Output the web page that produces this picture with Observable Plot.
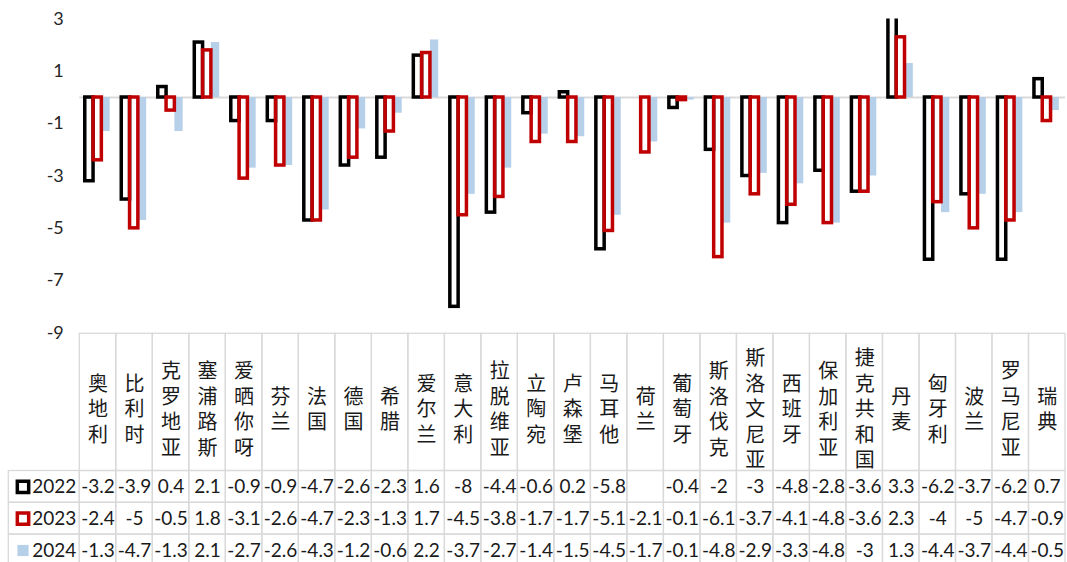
<!DOCTYPE html>
<html><head><meta charset="utf-8">
<script src="https://cdn.jsdelivr.net/npm/d3@7"></script>
<script src="https://cdn.jsdelivr.net/npm/@observablehq/plot@0.6"></script>
<style>
body{margin:0;background:#fff;}
#wrap{position:relative;width:1067px;height:562px;overflow:hidden;background:#fff;}
#wrap svg{position:absolute;overflow:visible;}
</style></head><body><div id="wrap"></div>
<script>
const countries = ["奥地利","比利时","克罗地亚","塞浦路斯","爱晒你呀","芬兰","法国","德国","希腊","爱尔兰","意大利","拉脱维亚","立陶宛","卢森堡","马耳他","荷兰","葡萄牙","斯洛伐克","斯洛文尼亚","西班牙","保加利亚","捷克共和国","丹麦","匈牙利","波兰","罗马尼亚","瑞典"];
const years = ["2022","2023","2024"];
const v2022 = [-3.2,-3.9,0.4,2.1,-0.9,-0.9,-4.7,-2.6,-2.3,1.6,-8,-4.4,-0.6,0.2,-5.8,null,-0.4,-2,-3,-4.8,-2.8,-3.6,3.3,-6.2,-3.7,-6.2,0.7];
const v2023 = [-2.4,-5,-0.5,1.8,-3.1,-2.6,-4.7,-2.3,-1.3,1.7,-4.5,-3.8,-1.7,-1.7,-5.1,-2.1,-0.1,-6.1,-3.7,-4.1,-4.8,-3.6,2.3,-4,-5,-4.7,-0.9];
const v2024 = [-1.3,-4.7,-1.3,2.1,-2.7,-2.6,-4.3,-1.2,-0.6,2.2,-3.7,-2.7,-1.4,-1.5,-4.5,-1.7,-0.1,-4.8,-2.9,-3.3,-4.8,-3,1.3,-4.4,-3.7,-4.4,-0.5];
const yTicks = [-9,-7,-5,-3,-1,1,3];

const seriesValues = {"2022": v2022, "2023": v2023, "2024": v2024};
const rows = [];
years.forEach(yr => countries.forEach((c, j) => rows.push({country: c, year: yr, value: seriesValues[yr][j]})));
const valid = rows.filter(d => d.value != null);

const GRID = "#d9d9d9";
const W = 1067, L = 79.3, R = 2;
const NUMFONT = "Lato, 'Open Sans', sans-serif";
const CJKFONT = "'Noto Sans CJK SC', sans-serif";
const wrap = document.getElementById("wrap");

// Chart
const chart = Plot.plot({
  width: W, height: 345, marginLeft: L, marginRight: R, marginTop: 18.5, marginBottom: 12.5,
  style: {fontFamily: NUMFONT, fontSize: "18px", color: "#262626", background: "transparent"},
  fx: {domain: countries, padding: 0, axis: null, round: false},
  x: {domain: years, paddingInner: 0, paddingOuter: 0.7, align: 0.47, axis: null, round: false},
  y: {domain: [-9, 3], ticks: yTicks, tickSize: 0, tickPadding: 16, label: null, tickFormat: d => String(d)},
  marks: [
    Plot.ruleY([0], {stroke: GRID, strokeWidth: 2}),
    Plot.barY(valid.filter(d => d.year === "2024"), {fx: "country", x: "year", y: "value", fill: "#b7d0ea", clip: true}),
    Plot.barY(valid.filter(d => d.year === "2022"), {fx: "country", x: "year", y: "value", fill: "none", stroke: "#000000", strokeWidth: 3.5, clip: true}),
    Plot.barY(valid.filter(d => d.year === "2023"), {fx: "country", x: "year", y: "value", fill: "none", stroke: "#c00000", strokeWidth: 3.5, clip: true})
  ]
});
chart.style.left = "0px"; chart.style.top = "0px";

// Header row (country names, written vertically)
const header = Plot.plot({
  width: W, height: 165, marginLeft: L, marginRight: R, marginTop: 13.3, marginBottom: 14.5,
  style: {background: "transparent"},
  x: {domain: countries, padding: 0, axis: null, round: false},
  marks: [
    Plot.cell(countries, {x: d => d, stroke: GRID, strokeWidth: 1.3, fill: "none"}),
    Plot.text(countries, {x: d => d, text: d => d, frameAnchor: "middle",
      fontSize: 20, fontFamily: CJKFONT, fill: "#1a1a1a"})
  ]
});
header.style.left = "0px"; header.style.top = "320px";
header.querySelectorAll("text").forEach(t => {
  t.style.writingMode = "vertical-rl";
  t.style.textOrientation = "upright";
  t.style.letterSpacing = "5.5px";
  t.setAttribute("dy", "2.75");
});

// Data rows
const table = Plot.plot({
  width: W, height: 100, marginLeft: L, marginRight: R, marginTop: 0.5, marginBottom: 4.1,
  style: {background: "transparent"},
  x: {domain: countries, padding: 0, axis: null, round: false},
  y: {domain: years, padding: 0, axis: null, round: false},
  marks: [
    Plot.cell(rows, {x: "country", y: "year", stroke: GRID, strokeWidth: 1.3, fill: "none"}),
    Plot.text(valid, {x: "country", y: "year", text: d => String(d.value), fontSize: 19, fontFamily: NUMFONT, fill: "#1a1a1a"})
  ]
});
table.style.left = "0px"; table.style.top = "470px";

// Legend column
const swatchStroke = {"2022": "#000000", "2023": "#c00000"};
const legend = Plot.plot({
  width: 80, height: 100, marginLeft: 8.3, marginRight: 0.7, marginTop: 0.5, marginBottom: 4.1,
  style: {background: "transparent"},
  y: {domain: years, padding: 0, axis: null, round: false},
  marks: [
    Plot.cell(years, {y: d => d, stroke: GRID, strokeWidth: 1.3, fill: "none"}),
    Plot.dot(["2022", "2023"], {y: d => d, frameAnchor: "left", dx: 14.2, symbol: "square", r: 6.4,
      fill: "white", stroke: d => swatchStroke[d], strokeWidth: 3.5}),
    Plot.dot(["2024"], {y: d => d, frameAnchor: "left", dx: 14.2, symbol: "square", r: 6.3, fill: "#b7d0ea"}),
    Plot.text(years, {y: d => d, text: d => d, frameAnchor: "left", dx: 23.4, textAnchor: "start",
      fontSize: 19, fontFamily: NUMFONT, fill: "#1a1a1a"})
  ],
  color: {type: "identity"}
});
legend.style.left = "0px"; legend.style.top = "470px";

wrap.append(table, legend, header, chart);
</script>
</body></html>
